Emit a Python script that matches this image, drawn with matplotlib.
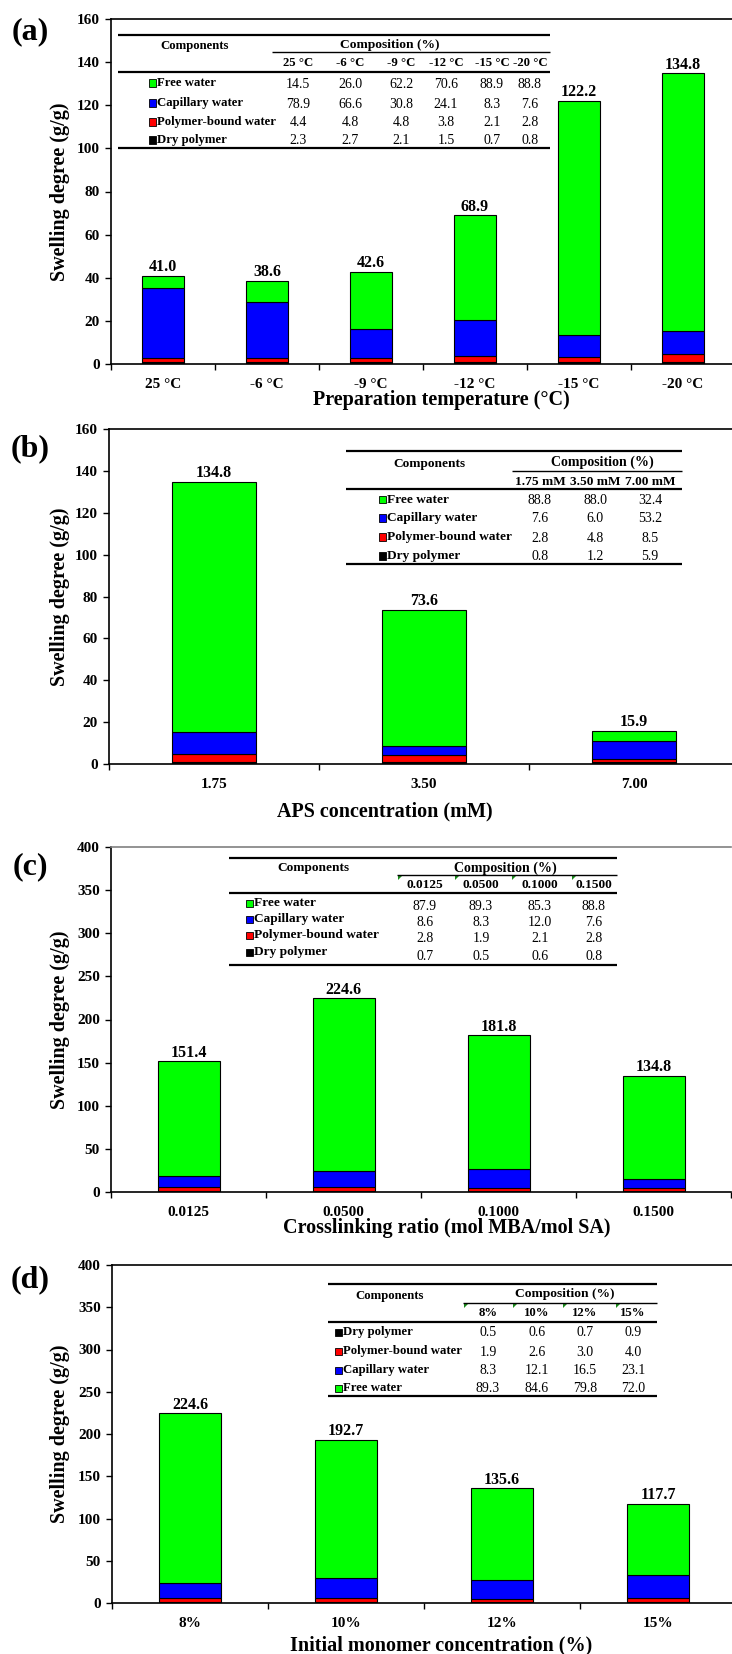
import matplotlib
matplotlib.use("Agg")
import matplotlib.pyplot as plt
import numpy as np
from matplotlib.lines import Line2D
from matplotlib.patches import Rectangle, Polygon

plt.rcParams["font.family"] = ["Liberation Serif", "DejaVu Serif"]
plt.rcParams["font.weight"] = "bold"

W, H = 732, 1654

# ---- data ----
components = ["Free water", "Capillary water", "Polymer-bound water", "Dry polymer"]
comp_colors = ["#00ff00", "#0000ff", "#ff0000", "#000000"]

temp_labels = ["25 \u00b0C", "-6 \u00b0C", "-9 \u00b0C", "-12 \u00b0C", "-15 \u00b0C", "-20 \u00b0C"]
total_a = [41.0, 38.6, 42.6, 68.9, 122.2, 134.8]
free_a = [14.5, 26.0, 62.2, 70.6, 88.9, 88.8]
cap_a = [78.9, 66.6, 30.8, 24.1, 8.3, 7.6]
bound_a = [4.4, 4.8, 4.8, 3.8, 2.1, 2.8]
dry_a = [2.3, 2.7, 2.1, 1.5, 0.7, 0.8]

aps_labels = ["1.75", "3.50", "7.00"]
aps_heads = ["1.75 mM", "3.50 mM", "7.00 mM"]
total_b = [134.8, 73.6, 15.9]
free_b = [88.8, 88.0, 32.4]
cap_b = [7.6, 6.0, 53.2]
bound_b = [2.8, 4.8, 8.5]
dry_b = [0.8, 1.2, 5.9]

mba_labels = ["0.0125", "0.0500", "0.1000", "0.1500"]
total_c = [151.4, 224.6, 181.8, 134.8]
free_c = [87.9, 89.3, 85.3, 88.8]
cap_c = [8.6, 8.3, 12.0, 7.6]
bound_c = [2.8, 1.9, 2.1, 2.8]
dry_c = [0.7, 0.5, 0.6, 0.8]

mono_labels = ["8%", "10%", "12%", "15%"]
total_d = [224.6, 192.7, 135.6, 117.7]
free_d = [89.3, 84.6, 79.8, 72.0]
cap_d = [8.3, 12.1, 16.5, 23.1]
bound_d = [1.9, 2.6, 3.0, 4.0]
dry_d = [0.5, 0.6, 0.7, 0.9]

fig = plt.figure(figsize=(W / 100, H / 100), dpi=100)


def fx(x):
    return x / W


def fy(y):
    return 1 - y / H


def hline(y, x0, x1, lw):
    fig.add_artist(Line2D([fx(x0), fx(x1)], [fy(y), fy(y)], color="black",
                          lw=lw, transform=fig.transFigure, solid_capstyle="butt"))


def ftext(x, y, s, **kw):
    kw.setdefault("ha", "center")
    kw.setdefault("va", "center")
    fig.text(fx(x), fy(y), s, **kw)


def panel(box, cats, totals, free, cap, bound, dry, ymax, ystep, xtitle, tx, ty,
          letter, ly, top_color="black"):
    left, top, right, bottom = box
    ax = fig.add_axes([fx(left), fy(bottom), (right - left) / W, (bottom - top) / H])
    x = np.arange(len(cats))
    tot = np.array(totals)
    base = np.zeros(len(cats))
    for pct, col in zip([dry, bound, cap, free], comp_colors[::-1]):
        h = tot * np.array(pct) / 100
        ax.bar(x, h, 0.4, bottom=base, color=col, edgecolor="black", lw=0.8)
        base += h
    for xi, t in zip(x, totals):
        ax.annotate(f"{t:.1f}", (xi, t), xytext=(0, 0.5), textcoords="offset points",
                    ha="center", va="bottom", fontsize=11.5)
    ax.set_xlim(-0.5, len(cats) - 0.5)
    ax.set_ylim(0, ymax)
    ax.set_yticks(np.arange(0, ymax + 1, ystep))
    ax.set_xticks(x, cats)
    ax.set_xticks(np.arange(len(cats) + 1) - 0.5, minor=True)
    ax.tick_params(axis="x", which="major", length=0, pad=10, labelsize=11)
    ax.tick_params(axis="x", which="minor", length=4, width=1, direction="out")
    ax.tick_params(axis="y", length=4, width=1, pad=4, labelsize=11)
    ax.spines["right"].set_visible(False)
    ax.spines["top"].set_color(top_color)
    for s in ["left", "bottom", "top"]:
        ax.spines[s].set_linewidth(1.2)
    ftext(60, (top + bottom) / 2, "Swelling degree (g/g)", rotation=90, fontsize=14.5)
    ftext(tx, ty, xtitle, fontsize=14.5)
    ftext(30, ly, letter, fontsize=23)
    return ax


def table(left, right, top, mid, mid_x0, head, bottom, comp_xy, compo_xy, col_x, head_y,
          heads, rows, row_y, val_y, sq_x, fs_lab=9.2, fs_val=10, tri=None):
    hline(top, left, right, 1.6)
    hline(mid, mid_x0, right, 1.0)
    hline(head, left, right, 1.6)
    hline(bottom, left, right, 1.6)
    ftext(comp_xy[0], comp_xy[1], "Components", fontsize=fs_lab)
    ftext(compo_xy[0], compo_xy[1], "Composition (%)", fontsize=fs_lab + 0.5)
    for cx, hd in zip(col_x, heads):
        ftext(cx, head_y, hd, fontsize=fs_lab)
    for (name, col, vals), ry, vy in zip(rows, row_y, val_y):
        fig.add_artist(Rectangle((fx(sq_x - 3.5), fy(ry + 3.5)), 7 / W, 7 / H, facecolor=col,
                                 edgecolor="black", lw=0.6, transform=fig.transFigure))
        ftext(sq_x + 5, ry, name, ha="left", fontsize=fs_lab)
        for cx, v in zip(col_x, vals):
            ftext(cx, vy, f"{v:.1f}", fontsize=fs_val, fontweight="normal")
    if tri is not None:
        for tx in tri[0]:
            ty = tri[1]
            fig.add_artist(Polygon([(fx(tx), fy(ty)), (fx(tx + 4), fy(ty)), (fx(tx), fy(ty + 4))],
                                   closed=True, color="#1a8a1a", lw=0,
                                   transform=fig.transFigure))


# (a) preparation temperature
panel((111, 19, 735, 364), temp_labels, total_a, free_a, cap_a, bound_a, dry_a, 160, 20,
      "Preparation temperature (\u00b0C)", 441, 400, "(a)", 32)
rows_a = list(zip(components, comp_colors, [free_a, cap_a, bound_a, dry_a]))
table(118, 550, 35, 52, 272, 72, 148, (195, 46), (390, 45),
      [298, 350, 401, 446, 492, 530], 63, temp_labels, rows_a,
      [83, 103, 122, 140], [84, 104, 123, 141], 152)

# (b) APS concentration
panel((109, 429, 739, 764), aps_labels, total_b, free_b, cap_b, bound_b, dry_b, 160, 20,
      "APS concentration (mM)", 385, 811, "(b)", 449)
rows_b = list(zip(components, comp_colors, [free_b, cap_b, bound_b, dry_b]))
table(346, 682, 451, 471, 512, 489, 564, (429, 464), (602, 462),
      [540, 595, 650], 482, aps_heads, rows_b,
      [500, 518, 537, 556], [501, 519, 538, 557], 382, fs_lab=9.6)

# (c) crosslinking ratio
panel((111, 847, 731, 1192), mba_labels, total_c, free_c, cap_c, bound_c, dry_c, 400, 50,
      "Crosslinking ratio (mol MBA/mol SA)", 447, 1228, "(c)", 867, top_color="#808080")
rows_c = list(zip(components, comp_colors, [free_c, cap_c, bound_c, dry_c]))
table(229, 617, 858, 875, 397, 893, 965, (313, 868), (505, 868),
      [425, 481, 540, 594], 885, mba_labels, rows_c,
      [903, 919, 935, 952], [906, 922, 939, 956], 249, fs_lab=9.6,
      tri=([398, 455, 512, 572], 876))

# (d) initial monomer concentration
panel((112, 1265, 736, 1603), mono_labels, total_d, free_d, cap_d, bound_d, dry_d, 400, 50,
      "Initial monomer concentration (%)", 441, 1645, "(d)", 1280)
rows_d = list(zip(components[::-1], comp_colors[::-1], [dry_d, bound_d, cap_d, free_d]))
table(328, 657, 1284, 1303, 463, 1322, 1396, (390, 1296), (565, 1294),
      [488, 537, 585, 633], 1313, mono_labels, rows_d,
      [1332, 1351, 1370, 1388], [1333, 1352, 1371, 1389], 338,
      tri=([464, 513, 563, 616], 1304))

fig.savefig("out.png", dpi=100)
